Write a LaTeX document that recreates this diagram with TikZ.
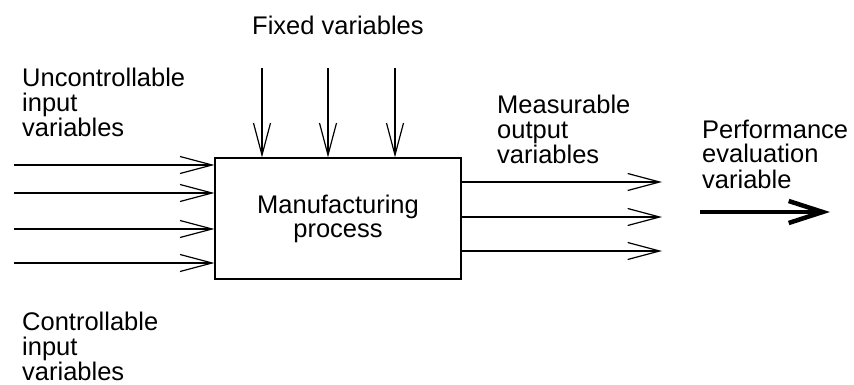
\documentclass[tikz,border=0pt]{standalone}
\usepackage{fontspec}
\setmainfont{Liberation Sans}
\usetikzlibrary{arrows.meta, positioning}
\tikzset{
  lbl/.style={
    font=\fontsize{25.5}{25}\selectfont, inner sep=0pt,
    align=left, anchor=base west
  },
  procbox/.style={
    rectangle, draw, line width=1.2pt, align=center,
    minimum width=246pt, minimum height=121pt,
    font=\fontsize{25.5}{24}\selectfont
  },
  arr/.style={-{Straight Barb[length=32pt,width=17pt]}, line width=1.2pt},
  perf arr/.style={-{Straight Barb[length=34pt,width=22pt]}, line width=4.5pt}
}
\begin{document}
\begin{tikzpicture}[x=1pt, y=-1pt]
  \useasboundingbox (0,0) rectangle (854,385);

  % process box
  \node[procbox] (proc) at (338,218.5) {Manufacturing\\process};

  % labels (anchored on the last line)
  \node[lbl] (fixed) at (252,35) {Fixed variables};
  \node[lbl] (unctrl) at (22,137) {Uncontrollable\\input\\variables};
  \node[lbl] (ctrl) at (22,380) {Controllable\\input\\variables};
  \node[lbl] (meas) at (497,164) {Measurable\\output\\variables};
  \node[lbl] (perf) at (702,188) {Performance\\evaluation\\variable};

  % fixed variables
  \foreach \i/\x in {1/262, 2/328, 3/395} {
    \coordinate (f\i) at (\x,68);
    \draw[arr] (f\i) -- (f\i |- proc.north);
  }

  % input variables
  \foreach \i/\y in {1/165, 2/193, 3/229, 4/263} {
    \coordinate (in\i) at (14,\y);
    \draw[arr] (in\i) -- (in\i -| proc.west);
  }

  % output variables
  \foreach \i/\y in {1/182, 2/217, 3/251} {
    \coordinate (out\i) at (662,\y);
    \draw[arr] (out\i -| proc.east) -- (out\i);
  }

  % performance evaluation
  \coordinate (pa) at (700,212);
  \coordinate (pb) at (830,212);
  \draw[perf arr] (pa) -- (pb);
\end{tikzpicture}
\end{document}
